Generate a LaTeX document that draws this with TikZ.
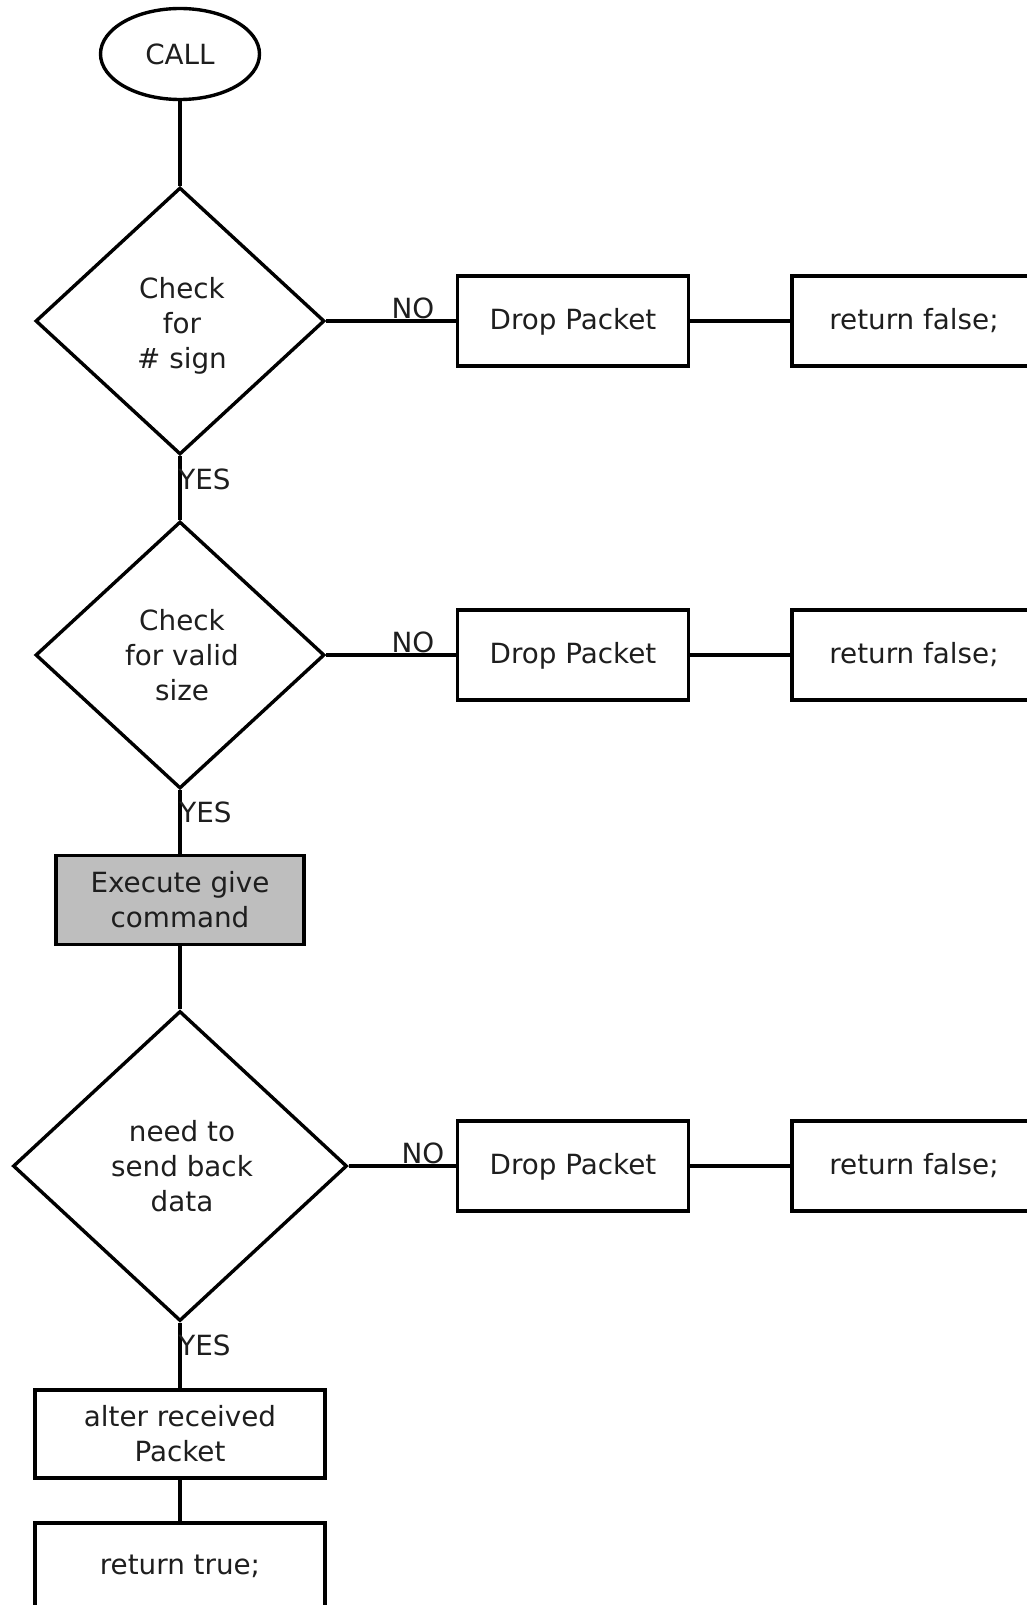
\documentclass[tikz,border=0pt]{standalone}
\usepackage{fontspec}
\setmainfont{DejaVu Sans}
\usetikzlibrary{shapes.geometric}
\definecolor{execfill}{HTML}{BEBEBE}
\definecolor{txt}{HTML}{1E1E1E}
\begin{document}
\begin{tikzpicture}[x=0.5pt,y=-0.5pt,
  every node/.style={font=\fontsize{13.9}{17.5}\selectfont, text=txt},
  base/.style={draw=black, line width=1.7pt, inner sep=0pt, align=center},
  terminal/.style={base, ellipse, minimum width=79.5pt, minimum height=45.5pt},
  decision/.style={base, diamond, minimum width=144.5pt, minimum height=133.5pt},
  bigdecision/.style={base, diamond, minimum width=167pt, minimum height=155pt},
  dropbox/.style={base, rectangle, minimum width=115.5pt, minimum height=45pt, text depth=0.3ex},
  retbox/.style={base, rectangle, minimum width=122pt, minimum height=45pt, text depth=0.3ex},
  widebox/.style={base, rectangle, minimum width=145pt, minimum height=44pt},
  execbox/.style={base, rectangle, fill=execfill, minimum width=124pt, minimum height=44.5pt},
  link/.style={draw=black, line width=1.7pt},
  nolabel/.style={anchor=base, inner sep=0pt},
  yeslabel/.style={anchor=west, inner sep=0pt}
]
\useasboundingbox (0,0) rectangle (1027,1605);
\clip (0,0) rectangle (1027,1605);

% start
\node[terminal] (call) at (180,54) {CALL};

% first test
\node[decision] (d1) at (180,321) {\rule{0pt}{15.2pt}\hspace*{2pt}Check\\\hspace*{2pt}for\\\hspace*{2pt}\# sign};
\node[dropbox] (drop1) at (573,321) {Drop Packet};
\node[retbox] (ret1) at (914,321) {return false;};

% second test
\node[decision] (d2) at (180,655) {\hspace*{2pt}Check\\\hspace*{2pt}for valid\\\hspace*{2pt}size};
\node[dropbox] (drop2) at (573,655) {Drop Packet};
\node[retbox] (ret2) at (914,655) {return false;};

% command
\node[execbox] (exec) at (180,900) {Execute give\\command};

% third test
\node[bigdecision] (d3) at (180,1166) {\hspace*{2pt}need to\\\hspace*{2pt}send back\\\hspace*{2pt}data};
\node[dropbox] (drop3) at (573,1166) {Drop Packet};
\node[retbox] (ret3) at (914,1166) {return false;};

% reply
\node[widebox] (alter) at (180,1434) {alter received\\Packet};
\node[widebox, minimum height=43pt] (rettrue) at (180,1566) {return true;};

% connectors
\draw[link] (call) -- (d1);
\draw[link] (d1) -- (drop1);
\draw[link] (drop1) -- (ret1);
\draw[link] (d1) -- (d2);
\draw[link] (d2) -- (drop2);
\draw[link] (drop2) -- (ret2);
\draw[link] (d2) -- (exec);
\draw[link] (exec) -- (d3);
\draw[link] (d3) -- (drop3);
\draw[link] (drop3) -- (ret3);
\draw[link] (d3) -- (alter);
\draw[link] (alter) -- (rettrue);

% branch labels
\node[nolabel] (no1) at (413,318) {NO};
\node[nolabel] (no2) at (413,652) {NO};
\node[nolabel] (no3) at (423,1163) {NO};
\node[yeslabel] (yes1) at (178,479) {YES};
\node[yeslabel] (yes2) at (179,812) {YES};
\node[yeslabel] (yes3) at (178,1345) {YES};
\end{tikzpicture}
\end{document}
